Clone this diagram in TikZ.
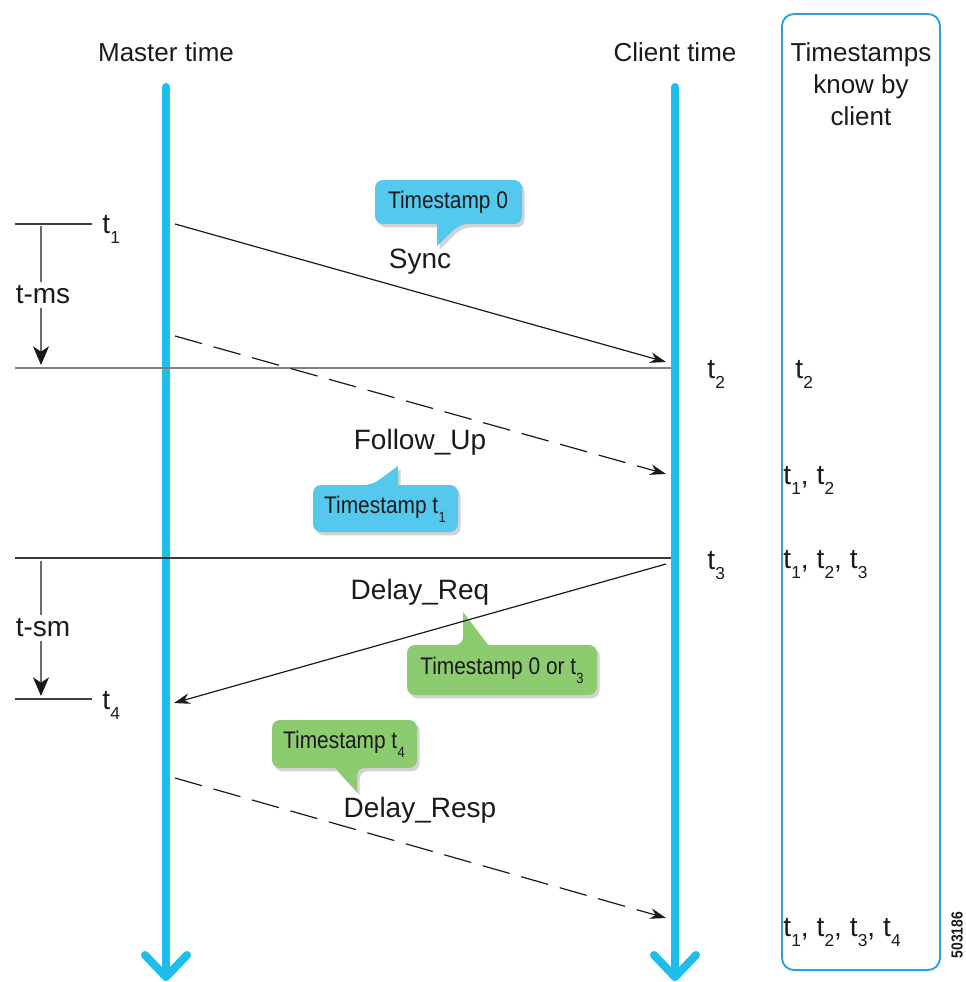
\documentclass[tikz,border=0pt]{standalone}
\usepackage{fontspec}
\setmainfont{Liberation Sans}
\newfontfamily\callfont{Liberation Sans}[FakeStretch=0.87]
\usetikzlibrary{arrows.meta,shadows}
\definecolor{lineblue}{HTML}{1DBDEC}
\definecolor{boxblue}{HTML}{2A9FD8}
\definecolor{callblue}{HTML}{55C8EE}
\definecolor{callgreen}{HTML}{8DCB70}
\definecolor{txt}{HTML}{1A1A1A}
\newcommand{\ts}[1]{t\kern0.2pt\raisebox{-0.38em}{\scalebox{0.62}{#1}}}
\tikzset{
  timeline/.style={lineblue, line width=6pt},
  chevron/.style={lineblue, line width=6pt, line cap=round, line join=round},
  msg/.style={txt, line width=0.9pt, -{Stealth[length=12pt,width=8pt]}},
  dmsg/.style={msg, dash pattern=on 21pt off 9pt},
  hline/.style={line width=1.1pt},
  measure/.style={draw=gray!85!black, line width=1pt, -{Stealth[length=14pt,width=12pt,inset=4pt,color=black!90]}},
  lbl/.style={txt, font=\fontsize{21}{24}\selectfont},
  head/.style={txt, font=\fontsize{19.5}{24}\selectfont, align=center},
  tlab/.style={txt, font=\fontsize{21}{24}\selectfont, anchor=base west, inner sep=0pt},
  calltext/.style={txt, font=\callfont\fontsize{18}{20}\selectfont},
  callshadow/.style={drop shadow={opacity=0.35, shadow xshift=2pt, shadow yshift=-2.5pt}},
}
\begin{document}
\begin{tikzpicture}[x=0.75pt,y=-0.75pt]
\useasboundingbox (0,0) rectangle (966,982);

% time lines
\coordinate (mtop) at (166,87);
\coordinate (mbot) at (166,977);
\coordinate (ctop) at (675,87);
\coordinate (cbot) at (675,977);
\draw[timeline, line cap=round] (mtop) -- (mbot);
\draw[timeline, line cap=round] (ctop) -- (cbot);
\draw[chevron] (mbot) ++(-21,-22) -- (mbot) -- ++(21,-22);
\draw[chevron] (cbot) ++(-21,-22) -- (cbot) -- ++(21,-22);

% headers
\node[head] (mhead) at (166,52) {Master time};
\node[head] (chead) at (675,52) {Client time};

% right box
\coordinate (boxa) at (782,14);
\coordinate (boxb) at (940,970);
\draw[boxblue, line width=1.4pt, rounded corners=9pt] (boxa) rectangle (boxb);
\node[head] (khead) at (861,84) {Timestamps\\know by\\client};

% callouts
\path[fill=callblue, callshadow, rounded corners=6pt]
  (375,180) -- (522,180) -- (522,224) -- (460,224) [sharp corners] -- (437,246) -- (437,224) [rounded corners=6pt] -- (375,224) -- cycle;
\node[calltext] (c0) at (448,202) {Timestamp 0};

\path[fill=callblue, callshadow, rounded corners=6pt]
  (313,485) -- (372,485) [sharp corners] -- (398,466) -- (398,485) [rounded corners=6pt] -- (458,485) -- (458,532) -- (313,532) -- cycle;
\node[calltext] (c1) at (385,509) {Timestamp \ts{1}};

\path[fill=callgreen, callshadow, rounded corners=6pt]
  (407,645) -- (463,645) [sharp corners] -- (463,612) -- (488,645) [rounded corners=6pt] -- (597,645) -- (597,695) -- (407,695) -- cycle;
\node[calltext] (c2) at (502,670) {Timestamp 0 or \ts{3}};

\path[fill=callgreen, callshadow, rounded corners=6pt]
  (272,720) -- (417,720) -- (417,768) -- (357,768) [sharp corners] -- (357,792) -- (335,768) [rounded corners=6pt] -- (272,768) -- cycle;
\node[calltext] (c3) at (344,744) {Timestamp \ts{4}};

% horizontal reference lines
\coordinate (h1a) at (15,224);  \coordinate (h1b) at (92,224);
\coordinate (h2a) at (15,368);  \coordinate (h2b) at (671,368);
\coordinate (h3a) at (15,558);  \coordinate (h3b) at (671,558);
\coordinate (h4a) at (15,699);  \coordinate (h4b) at (92,699);
\draw[hline, black!75] (h1a) -- (h1b);
\draw[hline, gray!90!black, opacity=0.9] (h2a) -- (h2b);
\draw[hline, black!85, opacity=0.9] (h3a) -- (h3b);
\draw[hline, black!75] (h4a) -- (h4b);

% measures
\coordinate (ms1) at (41,226);  \coordinate (ms2) at (41,365);
\coordinate (sm1) at (41,561);  \coordinate (sm2) at (41,696);
\draw[measure] (ms1) -- (ms2);
\draw[measure] (sm1) -- (sm2);
\node[lbl, fill=white, inner sep=3pt] (tms) at (43,295) {t-ms};
\node[lbl, fill=white, inner sep=3pt] (tsm) at (43,628) {t-sm};

% t labels
\node[tlab] (t1) at (102,233) {\ts{1}};
\node[tlab] (t4) at (102,709) {\ts{4}};
\node[tlab] (t2) at (707,378) {\ts{2}};
\node[tlab] (t3) at (707,569) {\ts{3}};

% known timestamps
\node[tlab] (k1) at (795,378) {\ts{2}};
\node[tlab] (k2) at (783,484) {\ts{1}, \ts{2}};
\node[tlab] (k3) at (783,568) {\ts{1}, \ts{2}, \ts{3}};
\node[tlab] (k4) at (783,936) {\ts{1}, \ts{2}, \ts{3}, \ts{4}};

% messages
\coordinate (sy1) at (175,224);  \coordinate (sy2) at (666,362);
\coordinate (fu1) at (175,336);  \coordinate (fu2) at (666,474);
\coordinate (dq1) at (666,564);  \coordinate (dq2) at (174,703);
\coordinate (dr1) at (175,778);  \coordinate (dr2) at (666,918);
\draw[msg] (sy1) -- (sy2);
\draw[dmsg] (fu1) -- (fu2);
\draw[msg] (dq1) -- (dq2);
\draw[dmsg] (dr1) -- (dr2);

\node[lbl] (lsync) at (420,262) {Sync};
\node[lbl] (lfu) at (420,442) {Follow\_Up};
\node[lbl] (ldq) at (420,592) {Delay\_Req};
\node[lbl] (ldr) at (420,810) {Delay\_Resp};

% figure id
\node[txt, rotate=90, font=\callfont\bfseries\fontsize{12}{12}\selectfont] (fid) at (957,935) {503186};
\end{tikzpicture}
\end{document}
